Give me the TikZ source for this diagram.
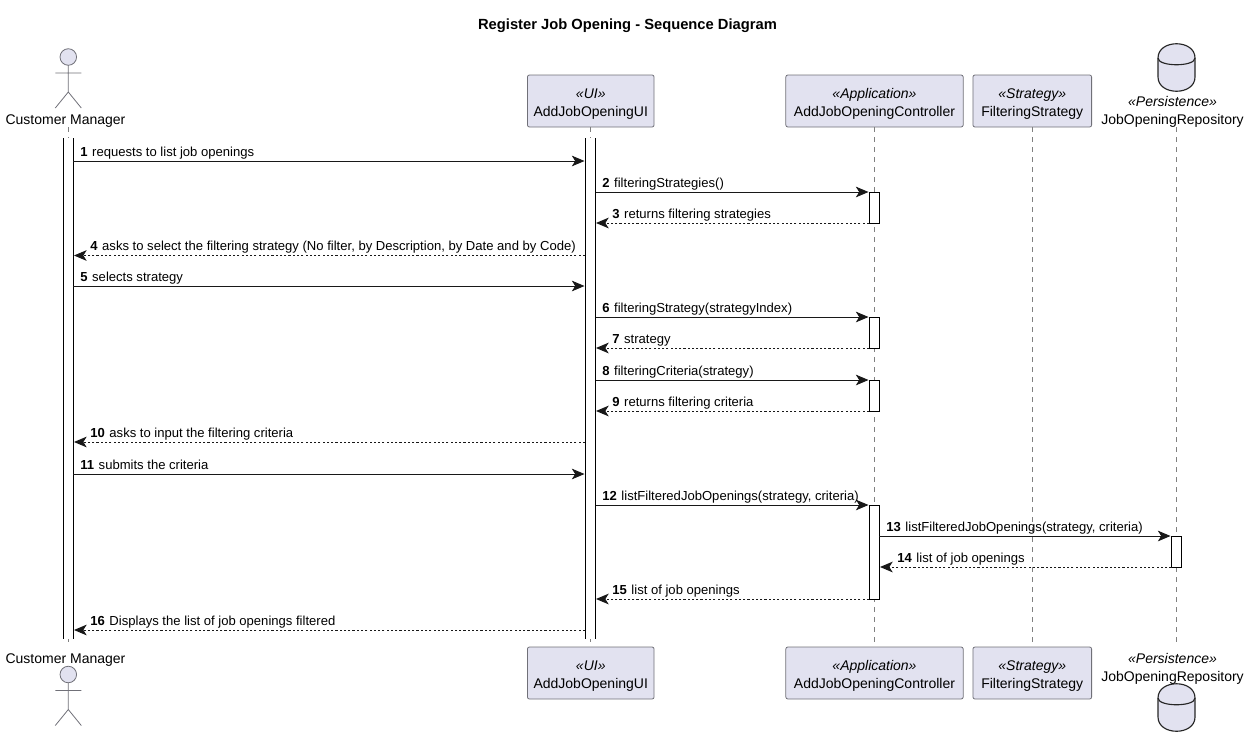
\documentclass[tikz,border=0pt]{standalone}
\usepackage{fontspec}
\setmainfont{Liberation Sans}
\usetikzlibrary{arrows.meta}
\definecolor{boxfill}{HTML}{E2E2F0}
\definecolor{boxline}{HTML}{707078}
\definecolor{lifeline}{HTML}{808080}
\definecolor{msgline}{HTML}{181818}
\newcommand{\stereo}[2]{\rule{0pt}{12.5pt}{\itshape\guillemotleft #1\guillemotright}\\#2}
\tikzset{
    txt/.style={font=\fontsize{10.5pt}{13.5pt}\selectfont, inner sep=0pt, align=center},
    msgtxt/.style={font=\fontsize{9.8pt}{12pt}\selectfont, inner sep=0pt, anchor=base west},
    partbox/.style={txt, draw=boxline, fill=boxfill, rounded corners=1.5pt, line width=0.6pt, minimum height=39pt},
    life/.style={draw=lifeline, line width=0.6pt, dash pattern=on 3.75pt off 3.75pt},
    actbar/.style={draw=black, fill=white, line width=0.75pt, minimum width=7.5pt, inner sep=0pt},
    openbar/.style={actbar, draw=none, outer sep=0pt},
    barside/.style={draw=black, line width=0.75pt},
    solidmsg/.style={draw=msgline, line width=0.75pt, -{Stealth[length=9.5pt,width=8pt,inset=2.5pt]}},
    returnmsg/.style={solidmsg, dash pattern=on 1.6pt off 1.6pt},
    stick/.style={draw=boxline, line width=0.6pt},
    pics/actorfig/.style={code={
        \draw[stick, fill=boxfill] (0,0) circle (6.2pt);
        \draw[stick] (0,8) -- (0,35) (-13,16) -- (13,16) (-13,51) -- (0,35) -- (13,51);
    }},
    pics/dbfig/.style={code={
        \draw[draw=black!85, line width=0.85pt, fill=boxfill] (-18.5,14) .. controls (-18.5,-5) and (18.5,-5) .. (18.5,14)
            -- (18.5,33) .. controls (18.5,52) and (-18.5,52) .. (-18.5,33) -- cycle;
        \draw[draw=black!85, line width=0.85pt] (-18.5,14) .. controls (-18.5,23) and (18.5,23) .. (18.5,14);
    }}
}

\begin{document}
\begin{tikzpicture}[x=0.75pt, y=-0.75pt]
    \useasboundingbox (0,0) rectangle (1251,746);
    \node[txt, font=\fontsize{11.05pt}{12pt}\selectfont\bfseries] (title) at (627.5,25.5) {Register Job Opening - Sequence Diagram};

    % participants
    \node[partbox, minimum width=95pt] (uiTop) at (590.75,101) {\stereo{UI}{AddJobOpeningUI}};
    \node[partbox, minimum width=133pt] (ctrlTop) at (874.5,101) {\stereo{Application}{AddJobOpeningController}};
    \node[partbox, minimum width=89pt] (stratTop) at (1032.25,101) {\stereo{Strategy}{FilteringStrategy}};
    \node[partbox, minimum width=95pt] (uiBot) at (590.75,673) {\stereo{UI}{AddJobOpeningUI}};
    \node[partbox, minimum width=133pt] (ctrlBot) at (874.5,673) {\stereo{Application}{AddJobOpeningController}};
    \node[partbox, minimum width=89pt] (stratBot) at (1032.25,673) {\stereo{Strategy}{FilteringStrategy}};

    \coordinate (cmTop) at (68.3,127);
    \coordinate (cmBot) at (68.3,647);
    \coordinate (repoTop) at (1176,127);
    \coordinate (repoBot) at (1176,647);

    % lifelines
    \draw[life] (cmTop) -- (cmBot);
    \draw[life] (uiTop.south) -- (uiBot.north);
    \draw[life] (ctrlTop.south) -- (ctrlBot.north);
    \draw[life] (stratTop.south) -- (stratBot.north);
    \draw[life] (repoTop) -- (repoBot);

    % actor and database
    \pic at (68.3,57) {actorfig};
    \pic at (68.3,674.5) {actorfig};
    \pic at (1176.5,44) {dbfig};
    \pic at (1176.5,684) {dbfig};
    \node[txt] (cmTopTxt) at (65.5,121) {Customer Manager};
    \node[txt] (cmBotTxt) at (65.5,660) {Customer Manager};
    \node[txt] (repoTopTxt) at (1172.5,112) {{\itshape\guillemotleft Persistence\guillemotright}\\JobOpeningRepository};
    \node[txt] (repoBotTxt) at (1172.5,668.5) {{\itshape\guillemotleft Persistence\guillemotright}\\JobOpeningRepository};

    % activation bars
    \foreach \name/\x in {cmBar/68.3, uiBar/590.5} {
        \node[openbar, minimum height=376pt] (\name) at (\x,388.8) {};
        \draw[barside] (\name.north west) -- (\name.south west);
        \draw[barside] (\name.north east) -- (\name.south east);
    }
    \foreach \name/\x/\ya/\yb in {ctrlA/874/192/223, ctrlB/874/317/348,
        ctrlC/874/380/411, ctrlD/874/505/599, repoBar/1176.5/536/567}
        \node[actbar, minimum height={(\yb-\ya)*0.75pt}] (\name) at (\x,{(\ya+\yb)/2}) {};

    % messages
    \foreach \n/\y/\xa/\xb/\kind/\lx/\txt in {
        1/161/73/584.5/solidmsg/80/requests to list job openings,
        2/192/595.5/868.5/solidmsg/602/filteringStrategies(),
        3/223/869/596/returnmsg/612/returns filtering strategies,
        4/255.5/585/74/returnmsg/90/{asks to select the filtering strategy (No filter, by Description, by Date and by Code)},
        5/286/73/584.5/solidmsg/80/selects strategy,
        6/317/595.5/868.5/solidmsg/602/filteringStrategy(strategyIndex),
        7/348/869/596/returnmsg/612/strategy,
        8/380/595.5/868.5/solidmsg/602/filteringCriteria(strategy),
        9/411/869/596/returnmsg/612/returns filtering criteria,
        10/442/585/74/returnmsg/90/asks to input the filtering criteria,
        11/474/73/584.5/solidmsg/80/submits the criteria,
        12/505/595.5/868.5/solidmsg/602/{listFilteredJobOpenings(strategy, criteria)},
        13/536/879/1170.5/solidmsg/886/{listFilteredJobOpenings(strategy, criteria)},
        14/567/1171.5/880/returnmsg/897/list of job openings,
        15/599/869/596/returnmsg/612/list of job openings,
        16/630/585/74/returnmsg/90/Displays the list of job openings filtered}
    {
        \coordinate (s\n) at (\xa,\y);
        \coordinate (t\n) at (\xb,\y);
        \draw[\kind] (s\n) -- (t\n);
        \node[msgtxt] (m\n) at (\lx,\y-5) {\textbf{\n}\hspace{3.5pt}\txt};
    }
\end{tikzpicture}
\end{document}
